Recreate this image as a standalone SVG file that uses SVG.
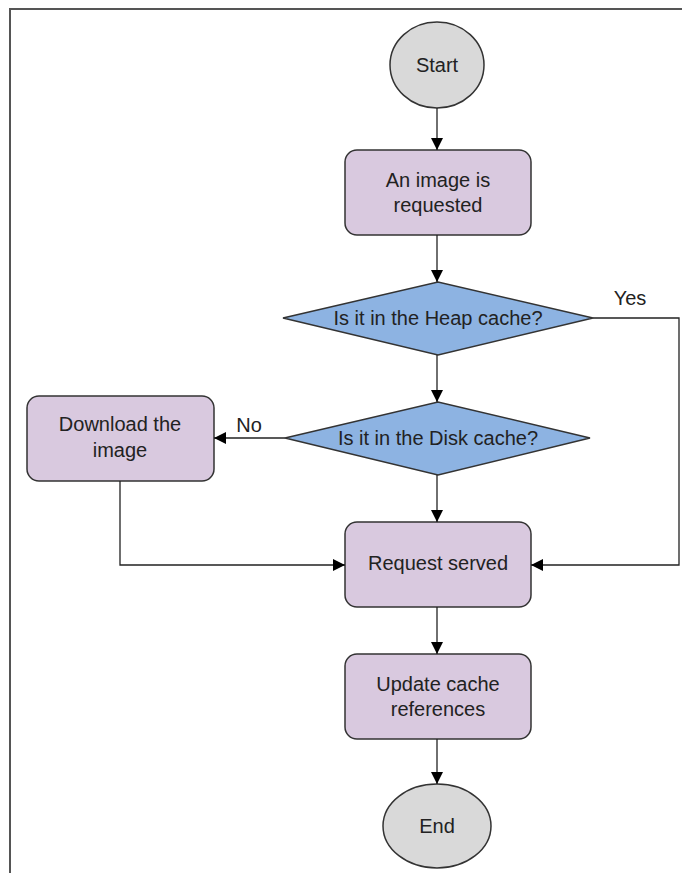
<svg xmlns="http://www.w3.org/2000/svg" width="682" height="873" viewBox="0 0 682 873">
<style>
text{font-family:"Liberation Sans",Arial,sans-serif;font-size:20px;fill:#222;text-anchor:middle}
.box{fill:#d9c9df;stroke:#333;stroke-width:1.5}
.dia{fill:#8db3e2;stroke:#333;stroke-width:1.5}
.ell{fill:#d9d9d9;stroke:#333;stroke-width:1.5}
.edge{fill:none;stroke:#222;stroke-width:1.3}
</style>
<defs>
<marker id="arr" viewBox="0 0 12 12" refX="12" refY="6" markerWidth="12" markerHeight="12" markerUnits="userSpaceOnUse" orient="auto">
<path d="M0,0 L12,6 L0,12 Z" fill="#000"/>
</marker>
</defs>
<rect width="682" height="873" fill="#fff"/>
<path d="M10,873 V9 H682" fill="none" stroke="#555" stroke-width="2"/>
<g id="start"><ellipse class="ell" cx="437" cy="65" rx="47" ry="43"/><text x="437" y="72">Start</text></g>
<g id="requested"><rect class="box" x="345" y="150" width="186" height="85" rx="12"/><text x="438" y="187">An image is</text><text x="438" y="212">requested</text></g>
<g id="heap"><polygon class="dia" points="283,318 438,282 593,318 438,355"/><text x="438" y="325">Is it in the Heap cache?</text></g>
<g id="disk"><polygon class="dia" points="285,438 438,402 590,438 438,475"/><text x="438" y="445">Is it in the Disk cache?</text></g>
<g id="download"><rect class="box" x="27" y="396" width="187" height="85" rx="12"/><text x="120" y="431">Download the</text><text x="120" y="457">image</text></g>
<g id="served"><rect class="box" x="345" y="522" width="186" height="85" rx="12"/><text x="438" y="570">Request served</text></g>
<g id="update"><rect class="box" x="345" y="654" width="186" height="85" rx="12"/><text x="438" y="691">Update cache</text><text x="438" y="716">references</text></g>
<g id="end"><ellipse class="ell" cx="437" cy="826" rx="54" ry="42"/><text x="437" y="833">End</text></g>
<g id="connectors">
<path class="edge" d="M437,108 V150" marker-end="url(#arr)"/>
<path class="edge" d="M437,235 V282" marker-end="url(#arr)"/>
<path class="edge" d="M437,355 V402" marker-end="url(#arr)"/>
<path class="edge" d="M437,475 V522" marker-end="url(#arr)"/>
<path class="edge" d="M437,607 V654" marker-end="url(#arr)"/>
<path class="edge" d="M437,739 V784" marker-end="url(#arr)"/>
<path class="edge" d="M593,318 H679 V565 H531" marker-end="url(#arr)"/>
<path class="edge" d="M285,438 H214" marker-end="url(#arr)"/>
<path class="edge" d="M120,481 V565 H345" marker-end="url(#arr)"/>
<text x="630" y="305">Yes</text>
<text x="249" y="432">No</text>
</g>
</svg>
